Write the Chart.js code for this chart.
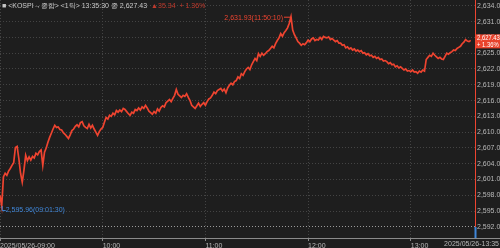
<!DOCTYPE html>
<html>
<head>
<meta charset="utf-8">
<script src="https://cdn.jsdelivr.net/npm/chart.js@4/dist/chart.umd.min.js"></script>
<style>
html,body{margin:0;padding:0;background:#1e1e1e;}
#wrap{position:relative;width:500px;height:248px;}
</style>
</head>
<body>
<div id="wrap"><canvas id="c"></canvas></div>
<script>
// KOSPI 1-tick, 2025/05/26, one value per minute from 09:00
const endLabel = '2025/05/26-13:35';
const hourTicks = [0, 60, 120, 180, 240];
const hourLabels = ['2025/05/26-09:00', '10:00', '11:00', '12:00', '13:00'];
const yTicks = [2592, 2595, 2598, 2601, 2604, 2607, 2610, 2613, 2616, 2619, 2622, 2625, 2628, 2631, 2634];
const kospi = [
  2598.0, 2595.96, 2601.5, 2602.2, 2601.8, 2602.6, 2603.1, 2603.7, 2604.2, 2607.1,
  2607.3, 2605.0, 2602.2, 2600.5, 2602.8, 2605.6, 2604.6, 2605.3, 2604.7, 2605.4,
  2605.1, 2606.0, 2605.7, 2606.3, 2606.6, 2603.7, 2606.2, 2607.0, 2608.1, 2609.0,
  2609.8, 2610.6, 2611.3, 2610.9, 2611.0, 2610.5, 2610.4, 2609.9, 2609.6, 2609.2,
  2608.8, 2609.5, 2610.3, 2610.6, 2611.1, 2611.4, 2611.0, 2611.8, 2612.0, 2611.2,
  2610.9, 2610.7, 2611.5, 2610.8, 2611.3, 2610.6, 2610.0, 2609.4, 2610.1, 2610.6,
  2610.9, 2611.9, 2612.8, 2612.5, 2613.2, 2613.0, 2613.6, 2613.3, 2614.1, 2613.8,
  2614.2, 2613.9, 2614.5, 2614.3, 2613.9, 2613.5, 2613.2, 2613.8, 2613.6, 2614.3,
  2614.1, 2614.6, 2614.2, 2614.8, 2614.5, 2615.1, 2614.6, 2614.0, 2613.7, 2613.4,
  2613.9, 2613.6, 2614.4, 2614.0, 2614.7, 2615.0, 2614.8, 2615.6, 2615.9, 2616.2,
  2615.8, 2616.4, 2617.0, 2618.1, 2617.2, 2616.9, 2616.6, 2617.0, 2616.8, 2617.3,
  2616.6, 2616.0, 2615.1, 2614.8, 2614.5, 2615.0, 2615.5, 2614.9, 2615.3, 2615.6,
  2615.1, 2615.8, 2616.3, 2616.5, 2617.0, 2617.6, 2617.3, 2617.9, 2618.1, 2618.3,
  2617.8, 2618.2, 2617.5, 2618.4, 2618.9, 2619.3, 2619.0, 2619.6, 2619.8, 2620.5,
  2620.2, 2621.1, 2620.8, 2621.5, 2622.0, 2622.3, 2621.9, 2622.8, 2623.4, 2624.0,
  2623.6, 2624.9, 2624.4, 2625.0, 2624.6, 2624.9, 2625.3, 2625.5, 2625.9, 2626.3,
  2626.0, 2626.8, 2627.4, 2627.9, 2628.7, 2628.2, 2628.9, 2629.3, 2629.8, 2630.7,
  2631.93, 2629.4, 2628.5, 2627.9, 2627.2, 2626.9, 2626.5, 2626.8, 2626.6, 2627.0,
  2627.5, 2627.2, 2627.7, 2627.9, 2627.4, 2627.6, 2627.5, 2628.0, 2627.6, 2628.2,
  2628.0, 2627.9, 2628.1, 2627.6, 2627.8, 2627.5, 2627.2, 2627.4, 2626.9, 2626.9,
  2626.5, 2626.6, 2626.0, 2626.2, 2625.8, 2626.0, 2625.6, 2625.8, 2625.4, 2625.6,
  2625.3, 2625.5, 2625.0, 2625.1, 2624.7, 2624.9, 2624.5, 2624.6, 2624.2, 2624.4,
  2624.0, 2624.2, 2623.8, 2623.9, 2623.5, 2623.6, 2623.4, 2623.0, 2623.2, 2622.8,
  2622.9, 2622.4, 2622.6, 2622.2, 2622.4, 2622.1, 2621.8, 2622.0, 2621.6, 2621.7,
  2621.5, 2621.8, 2621.4, 2621.5, 2621.2, 2621.6, 2621.4, 2621.8, 2621.6, 2623.8,
  2624.2, 2624.6, 2624.4, 2625.0, 2624.6, 2624.3, 2624.0, 2624.2, 2623.9, 2623.8,
  2624.4, 2625.0, 2624.8, 2625.1, 2625.3, 2625.6, 2625.5, 2625.9, 2626.1, 2626.3,
  2626.8, 2627.1, 2627.6, 2627.3, 2627.2, 2627.43
];
const maxIdx = 170, maxText = '2,631.93(11:50:10)';
const minIdx = 1, minText = '2,595.96(09:01:30)';
const lastText = '2,627.43', lastChange = '+ 1.36%';
const headerMain = '■ <KOSPI→종합> <1틱> 13:35:30 종 2,627.43';
const headerChg = '▲35.34  + 1.36%';

const RED = '#ee4430';
const BLUE = '#3f86d8';
const FONT = "'Liberation Sans Narrow','Liberation Sans',Arial,sans-serif";

const points = kospi.map((v, i) => ({x: i, y: v}));

const decor = {
  id: 'decor',
  beforeDraw(chart) {
    const {ctx, width, height} = chart;
    ctx.save();
    ctx.fillStyle = '#1e1e1e';
    ctx.fillRect(0, 0, width, height);
    ctx.restore();
  },
  afterDraw(chart) {
    const {ctx, chartArea: a, scales: {x, y}} = chart;
    ctx.save();
    // bottom axis line
    ctx.strokeStyle = '#8a8a8a';
    ctx.lineWidth = 1;
    ctx.beginPath(); ctx.moveTo(0, a.bottom + 0.5); ctx.lineTo(500, a.bottom + 0.5); ctx.stroke();
    // right vertical line
    const y0 = y.getPixelForValue(2592);
    ctx.strokeStyle = RED;
    ctx.beginPath(); ctx.moveTo(a.right + 0.5, 0); ctx.lineTo(a.right + 0.5, y0); ctx.stroke();
    ctx.strokeStyle = BLUE; ctx.lineWidth = 2;
    ctx.beginPath(); ctx.moveTo(a.right + 0.5, y0); ctx.lineTo(a.right + 0.5, a.bottom); ctx.stroke();
    ctx.lineWidth = 1;
    // end x label
    ctx.font = '7px ' + FONT;
    ctx.fillStyle = '#b8b8b8';
    ctx.textAlign = 'right'; ctx.textBaseline = 'top';
    ctx.fillText(endLabel, 499, a.bottom + 3);
    // max annotation
    const mx = x.getPixelForValue(maxIdx), my = y.getPixelForValue(kospi[maxIdx]);
    ctx.fillStyle = RED; ctx.strokeStyle = RED;
    ctx.textAlign = 'right'; ctx.textBaseline = 'middle';
    ctx.fillText(maxText, mx - 8, my + 1);
    ctx.beginPath(); ctx.moveTo(mx - 7, my + 0.5); ctx.lineTo(mx, my + 0.5); ctx.stroke();
    // min annotation
    const nx = x.getPixelForValue(minIdx), ny = y.getPixelForValue(kospi[minIdx]);
    ctx.strokeStyle = BLUE; ctx.fillStyle = BLUE;
    ctx.beginPath(); ctx.moveTo(nx + 0.5, ny); ctx.lineTo(nx + 0.5, ny + 4.5); ctx.lineTo(nx + 4, ny + 4.5); ctx.stroke();
    ctx.textAlign = 'left';
    ctx.fillText(minText, nx + 4, ny + 4);
    // last value box
    const ly = y.getPixelForValue(kospi[kospi.length - 1]);
    ctx.fillStyle = '#e8432c';
    ctx.fillRect(a.right + 1, ly - 6, 500 - a.right - 1, 14);
    ctx.fillStyle = '#ffffff';
    ctx.font = '6.5px ' + FONT;
    ctx.textAlign = 'left';
    ctx.save();
    ctx.translate(a.right + 2, 0);
    ctx.scale(0.9, 1);
    ctx.fillText(lastText, 0, ly - 2);
    ctx.fillText(lastChange, 0, ly + 4.5);
    ctx.restore();
    // header
    ctx.font = '7px ' + FONT;
    ctx.textBaseline = 'middle';
    ctx.fillStyle = '#c8c8c8';
    ctx.fillText(headerMain, 2, 6);
    const w = ctx.measureText(headerMain).width;
    ctx.fillStyle = '#c0392b';
    ctx.fillText(headerChg, 2 + w + 4, 6);
    ctx.restore();
  }
};

new Chart(document.getElementById('c'), {
  type: 'line',
  data: {
    datasets: [{
      data: points,
      borderColor: RED,
      borderWidth: 1.7,
      pointRadius: 0,
      tension: 0,
      fill: false
    }]
  },
  options: {
    responsive: true,
    maintainAspectRatio: false,
    animation: false,
    layout: {padding: 0},
    plugins: {legend: {display: false}, tooltip: {enabled: false}},
    scales: {
      x: {
        type: 'linear',
        min: 0,
        max: 277.5,
        afterBuildTicks(s) { s.ticks = hourTicks.map(v => ({value: v})); },
        afterFit(s) { s.height = 10; s.paddingLeft = 0; s.paddingRight = 0; },
        ticks: {
          autoSkip: false,
          maxRotation: 0,
          align: 'start',
          padding: 1,
          color: '#b8b8b8',
          font: {size: 7, family: FONT},
          callback(v) { const i = hourTicks.indexOf(v); return i >= 0 ? hourLabels[i] : ''; }
        },
        grid: {
          color: '#444444',
          tickLength: 3,
          tickColor: '#8a8a8a',
          tickBorderDash: [10, 0]
        },
        border: {display: false, dash: [1, 2]}
      },
      y: {
        position: 'right',
        min: 2589.9,
        max: 2635.1,
        afterBuildTicks(s) { s.ticks = yTicks.map(v => ({value: v})); },
        afterFit(s) { s.width = 25; s.paddingTop = 0; s.paddingBottom = 0; },
        ticks: {
          padding: 2,
          color: '#b8b8b8',
          font: {size: 7, family: FONT},
          callback(v) { return v.toLocaleString('en-US', {minimumFractionDigits: 2, maximumFractionDigits: 2}); }
        },
        grid: {
          drawTicks: false,
          color: (c) => c.tick && c.tick.value === 2592 ? '#9a9a9a' : '#444444'
        },
        border: {display: false, dash: [1, 2]}
      }
    }
  },
  plugins: [decor]
});
</script>
</body>
</html>
